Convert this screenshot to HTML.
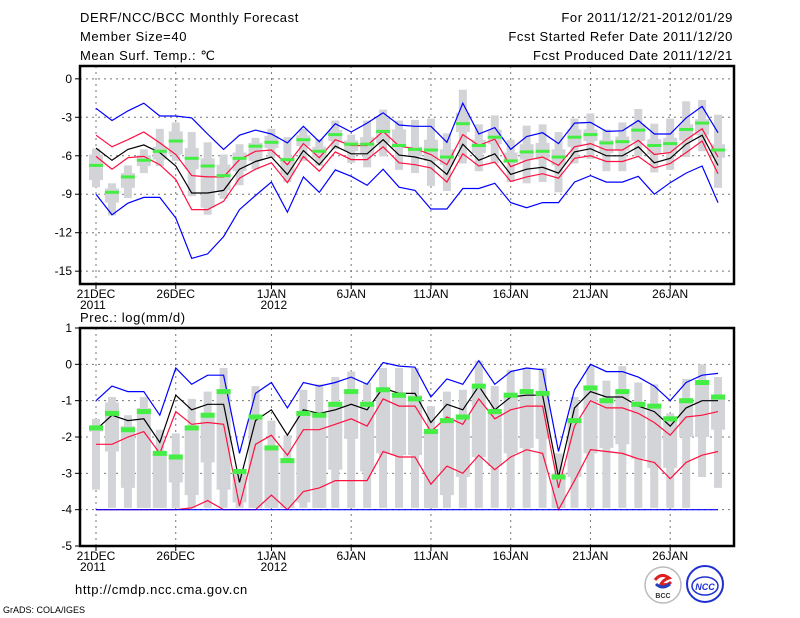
<!DOCTYPE html>
<html><head><meta charset="utf-8"><style>
body{margin:0;background:#fff;}
svg{display:block;font-family:"Liberation Sans",sans-serif;}
</style></head><body>
<svg id="c" width="800" height="618" viewBox="0 0 800 618">
<g font-size="13" fill="#000" letter-spacing="0.6">
<text x="80" y="22">DERF/NCC/BCC Monthly Forecast</text>
<text x="80" y="41">Member Size=40</text>
<text x="80" y="60">Mean Surf. Temp.: ℃</text>
<text x="733" y="22" text-anchor="end">For 2011/12/21-2012/01/29</text>
<text x="733" y="41" text-anchor="end">Fcst Started Refer Date 2011/12/20</text>
<text x="733" y="60" text-anchor="end">Fcst Produced Date 2011/12/21</text>
<text x="80" y="322">Prec.: log(mm/d)</text>
<text x="75" y="594">http://cmdp.ncc.cma.gov.cn</text>
<text x="3" y="613" font-size="9" letter-spacing="0">GrADS: COLA/IGES</text>
</g>
<g>
<circle cx="663" cy="585" r="18" fill="#fff" stroke="#bbb" stroke-width="1.5"/>
<path d="M655 580 q6 -8 14 -2 q-6 2 -8 6 q6 2 10 -2" fill="none" stroke="#e02020" stroke-width="3"/>
<path d="M656 584 q6 6 14 0" fill="none" stroke="#2040c0" stroke-width="3"/>
<text x="663" y="598" font-size="7" font-weight="bold" text-anchor="middle" fill="#333">BCC</text>
</g>
<g>
<circle cx="705" cy="584" r="18" fill="#fff" stroke="#2030d0" stroke-width="2"/>
<ellipse cx="705" cy="586" rx="13" ry="9" fill="none" stroke="#2030d0" stroke-width="1.5"/>
<text x="705" y="590" font-size="9" font-weight="bold" font-style="italic" text-anchor="middle" fill="#2030d0">NCC</text>
</g>
</svg>
<script>
// ---- Temperature panel data ----
const tBlueHi=[-2.3,-3.25,-2.5,-1.9,-2.9,-2.9,-3.05,-4.3,-5.5,-4.4,-4.0,-4.3,-5.0,-3.7,-4.9,-3.5,-4.15,-3.45,-2.65,-3.6,-3.7,-3.7,-4.95,-1.9,-4.3,-3.8,-5.5,-4.5,-4.2,-5.05,-3.45,-3.4,-4.1,-4.05,-3.25,-4.3,-4.3,-3.05,-2.15,-4.2];
const tBlueLo=[-9.0,-10.6,-9.7,-9.25,-9.25,-10.85,-14.0,-13.65,-12.3,-10.2,-9.1,-8.05,-10.4,-7.65,-8.85,-7.1,-7.6,-8.3,-7.05,-8.45,-8.7,-10.15,-10.15,-8.55,-8.55,-8.15,-9.65,-10.05,-9.65,-9.65,-8.05,-7.55,-8.05,-8.05,-7.6,-9.0,-8.1,-7.35,-6.8,-9.65];
const tRedHi=[-4.4,-5.3,-4.75,-4.15,-5.0,-5.9,-7.55,-7.65,-7.65,-6.3,-5.65,-5.55,-6.7,-5.05,-6.15,-4.75,-5.2,-5.2,-4.1,-5.25,-5.45,-5.9,-6.7,-4.35,-5.2,-4.7,-6.85,-6.35,-6.1,-6.75,-5.3,-5.05,-5.55,-5.55,-4.8,-5.9,-5.75,-4.75,-3.9,-6.1];
const tMean=[-5.4,-6.35,-5.5,-5.15,-5.75,-6.8,-8.9,-8.9,-8.7,-7.05,-6.45,-6.1,-7.45,-5.6,-6.7,-5.25,-5.85,-5.85,-4.75,-5.95,-6.1,-6.4,-7.45,-5.1,-6.35,-5.85,-7.45,-7.05,-6.9,-7.35,-5.7,-5.45,-6.0,-6.0,-5.3,-6.55,-6.2,-5.1,-4.4,-6.75];
const tRedLo=[-6.05,-7.05,-6.15,-6.05,-6.7,-7.85,-10.2,-10.2,-9.55,-7.75,-7.05,-6.55,-8.1,-6.05,-7.2,-5.7,-6.3,-6.3,-5.3,-6.55,-6.7,-6.95,-8.05,-5.85,-6.8,-6.5,-8.0,-7.65,-7.4,-7.75,-6.2,-6.0,-6.45,-6.45,-6.05,-6.95,-6.6,-5.75,-4.85,-7.4];
const tCtrl=[-6.75,-8.85,-7.65,-6.35,-5.65,-4.85,-6.2,-6.8,-7.55,-6.2,-5.25,-4.95,-6.3,-4.75,-5.65,-4.35,-5.1,-5.1,-4.1,-5.2,-5.5,-5.55,-6.1,-3.5,-5.2,-4.55,-6.4,-5.7,-5.65,-6.1,-4.55,-4.35,-5.0,-4.9,-4.0,-5.2,-5.05,-3.95,-3.45,-5.55];
const tMax=[-5.45,-8.15,-6.75,-5.5,-3.9,-3.4,-4.15,-4.95,-5.9,-5.1,-4.6,-3.9,-4.55,-3.9,-4.7,-3.25,-4.35,-3.25,-2.4,-3.25,-3.2,-3.1,-4.25,-0.85,-3.55,-2.85,-4.75,-3.65,-3.55,-4.15,-3.1,-2.7,-3.95,-3.4,-2.35,-3.5,-3.1,-1.75,-1.65,-2.8];
const tMin=[-8.45,-10.65,-9.3,-7.35,-6.8,-6.4,-9.15,-10.6,-9.35,-8.3,-7.05,-6.15,-8.05,-6.4,-6.8,-5.5,-6.55,-6.9,-6.05,-7.1,-7.35,-8.35,-8.75,-6.6,-7.2,-6.6,-8.05,-8.15,-8.05,-8.85,-6.6,-6.25,-7.2,-7.2,-6.05,-7.3,-7.1,-6.1,-5.65,-8.5];
const tQ3=[-5.9,-8.55,-7.35,-5.95,-5.3,-4.1,-5.4,-6.2,-6.7,-5.75,-5.0,-4.45,-6.15,-4.4,-5.3,-4.0,-4.8,-4.55,-2.9,-3.95,-5.3,-4.75,-5.5,-2.65,-4.75,-3.95,-5.75,-5.1,-5.0,-5.5,-3.95,-3.95,-4.75,-4.5,-3.55,-4.7,-4.6,-3.55,-3.15,-5.1];
const tQ1=[-7.9,-9.65,-8.5,-6.8,-6.3,-5.9,-7.05,-10.05,-8.7,-7.2,-6.4,-5.4,-7.45,-5.25,-6.15,-4.85,-5.65,-5.9,-5.0,-5.4,-6.05,-6.4,-6.7,-4.15,-5.8,-5.1,-6.55,-6.3,-6.3,-6.75,-5.3,-4.85,-5.8,-5.6,-4.85,-5.9,-5.75,-4.8,-4.4,-6.15];
const tTicks=[0,-3,-6,-9,-12,-15];
// ---- Precipitation panel data ----
const pBlueHi=[-1.0,-0.6,-0.75,-0.75,-1.4,-0.1,-0.55,-0.3,-0.3,-2.45,-0.8,-0.5,-1.2,-0.5,-0.6,-0.5,-0.35,-0.55,0.05,-0.05,-0.08,-0.9,-0.4,-0.55,0.1,-0.55,-0.2,-0.1,-0.15,-2.4,-0.7,0,-0.2,-0.2,-0.35,-0.6,-1.0,-0.5,-0.3,-0.25];
const pMean=[-1.8,-1.4,-1.55,-1.5,-2.15,-0.85,-1.25,-1.1,-1.1,-3.25,-1.55,-1.25,-1.95,-1.25,-1.35,-1.25,-1.1,-1.25,-0.65,-0.8,-0.8,-1.6,-1.1,-1.25,-0.6,-1.25,-0.9,-0.85,-0.85,-3.1,-1.2,-0.75,-0.9,-0.9,-1.15,-1.3,-1.7,-1.2,-1.0,-1.0];
const pRedHi=[-2.2,-2.2,-2.0,-1.85,-2.45,-1.3,-1.65,-1.6,-1.65,-3.9,-2.2,-1.95,-2.5,-1.8,-1.8,-1.65,-1.5,-1.7,-0.95,-1.15,-1.15,-1.85,-1.45,-1.65,-0.95,-1.5,-1.25,-1.15,-1.15,-3.4,-1.7,-1.0,-1.2,-1.2,-1.35,-1.6,-1.95,-1.45,-1.4,-1.3];
const pRedLo=[-4,-4,-4,-4,-4,-4,-3.95,-3.75,-4,-4,-4,-3.6,-4,-3.5,-3.4,-3.2,-3.2,-3.2,-2.4,-2.55,-2.55,-3.3,-2.8,-3.0,-2.5,-2.9,-2.55,-2.35,-2.45,-4,-3.2,-2.35,-2.4,-2.45,-2.6,-2.7,-3.15,-2.7,-2.5,-2.4];
const pBlueLo=[-4,-4,-4,-4,-4,-4,-4,-4,-4,-4,-4,-4,-4,-4,-4,-4,-4,-4,-4,-4,-4,-4,-4,-4,-4,-4,-4,-4,-4,-4,-4,-4,-4,-4,-4,-4,-4,-4,-4,-4];
const pCtrl=[-1.75,-1.35,-1.8,-1.3,-2.45,-2.55,-1.75,-1.4,-0.75,-2.95,-1.45,-2.3,-2.65,-1.35,-1.4,-1.1,-0.75,-1.1,-0.7,-0.85,-0.95,-1.85,-1.55,-1.45,-0.6,-1.3,-0.85,-0.75,-0.8,-3.1,-1.55,-0.65,-1.0,-0.75,-1.1,-1.15,-1.5,-1.0,-0.5,-0.9];
const pMax=[-1.5,-0.9,-1.4,-0.9,-1.8,-1.9,-0.95,-0.75,-0.1,-2.9,-0.6,-1.55,-1.95,-0.7,-0.55,-0.35,-0.2,-0.5,-0.1,-0.1,-0.1,-1.15,-0.75,-0.7,0.1,-0.6,-0.15,-0.1,-0.1,-2.45,-0.9,-0.05,-0.45,-0.05,-0.5,-0.55,-1.35,-0.4,0,-0.35];
const pMin=[-3.45,-3.95,-3.95,-3.95,-3.95,-3.95,-3.95,-3.95,-3.95,-3.95,-3.95,-3.95,-3.95,-3.95,-3.95,-3.95,-3.95,-3.95,-3.95,-3.95,-3.95,-3.95,-3.95,-3.95,-3.95,-3.95,-3.95,-3.95,-3.95,-3.95,-3.95,-3.95,-3.95,-3.95,-3.95,-3.95,-3.95,-3.95,-3.1,-3.4];
const pQ3=[-1.75,-1.05,-1.7,-1.2,-2.45,-2.5,-1.7,-1.4,-0.7,-2.95,-1.4,-2.3,-2.7,-1.35,-1.35,-1.1,-0.7,-1.1,-0.65,-0.85,-0.85,-1.85,-1.5,-1.4,-0.6,-1.3,-0.85,-0.75,-0.75,-3.0,-1.55,-0.6,-1.0,-0.75,-1.1,-1.15,-1.55,-1.0,-0.55,-0.9];
const pQ1=[-1.85,-2.4,-3.4,-3.95,-3.95,-3.25,-3.6,-2.7,-3.45,-3.8,-3.95,-3.95,-3.95,-3.8,-3.95,-2.9,-2.05,-2.95,-2.45,-2.5,-2.5,-3.95,-3.6,-3.1,-2.55,-2.8,-2.45,-2.3,-2.05,-3.95,-3.1,-2.45,-2.3,-2.2,-2.6,-2.85,-2.85,-2.0,-2.0,-1.8];
const pTicks=[1,0,-1,-2,-3,-4,-5];
const dateTicks=[0,5,11,16,21,26,31,36];
const dateLabels=["21DEC","26DEC","1JAN","6JAN","11JAN","16JAN","21JAN","26JAN"];
const yearLabels=["2011","","2012","","","","",""];

const NS="http://www.w3.org/2000/svg";
const svg=document.getElementById('c');
function mk(tag,attrs,parent){const e=document.createElementNS(NS,tag);for(const k in attrs)e.setAttribute(k,attrs[k]);(parent||svg).appendChild(e);return e;}
const X0=80,X1=734;
function xs(i){return 96+i*15.95;}

function panel(name,top,bot,vmax,vmin,ticks,series,boxes,ctrl,ctrlH){
  const g=mk('g',{});
  
  
  const ys=v=>top+(vmax-v)/(vmax-vmin)*(bot-top);
  ticks.forEach(t=>{
    if(t===vmax||t===vmin)return;
    const l=mk('line',{x1:X0,x2:X1,y1:ys(t),y2:ys(t),stroke:'#777','stroke-dasharray':'2,4','stroke-width':1},g);
    
    
  });
  dateTicks.forEach(d=>{
    const l=mk('line',{x1:xs(d),x2:xs(d),y1:top,y2:bot,stroke:'#777','stroke-dasharray':'2,4','stroke-width':1},g);
    
    
  });
  const [mx,mn,q3,q1]=boxes;
  for(let i=0;i<mx.length;i++){
    const r1=mk('rect',{x:xs(i)-4,y:ys(mx[i]),width:8,height:Math.max(1,ys(mn[i])-ys(mx[i])),fill:'#d3d4d8'},g);
    
    
    const r2=mk('rect',{x:xs(i)-7,y:ys(q3[i]),width:14,height:Math.max(1,ys(q1[i])-ys(q3[i])),fill:'#d3d4d8'},g);
    
    
  }
  series.forEach(([arr,col,nm])=>{
    const p=mk('polyline',{points:arr.map((v,i)=>xs(i).toFixed(1)+','+ys(v).toFixed(1)).join(' '),fill:'none',stroke:col,'stroke-width':1.2},g);
    
    
  });
  ctrl.forEach((v,i)=>{
    const r=mk('rect',{x:xs(i)-7,y:ys(v)-ctrlH/2,width:14,height:ctrlH,fill:'#44ee44'},g);
    
    
  });
  const f=mk('rect',{x:X0,y:top,width:X1-X0,height:bot-top,fill:'none',stroke:'#000','stroke-width':2.5},g);
  
  
  ticks.forEach(t=>{
    mk('line',{x1:X0-5,x2:X0,y1:ys(t),y2:ys(t),stroke:'#000'},g);
    const tx=mk('text',{x:X0-8,y:ys(t)+4,'text-anchor':'end','font-size':12},g);
    tx.textContent=String(t);
    
    
  });
  dateTicks.forEach((d,k)=>{
    mk('line',{x1:xs(d),x2:xs(d),y1:bot,y2:bot+5,stroke:'#000'},g);
    const tx=mk('text',{x:xs(d),y:bot+14,'text-anchor':'middle','font-size':12},g);
    tx.textContent=dateLabels[k];
    
    
    if(yearLabels[k]){
      const ty=mk('text',{x:xs(d)-(k===0?16:11),y:bot+25,'font-size':12},g);
      ty.textContent=yearLabels[k];
      
      
    }
  });
}
panel('temperature-panel',66,284,1,-16,tTicks,
  [[tBlueHi,'#0000ff','max-line'],[tBlueLo,'#0000ff','min-line'],[tRedHi,'#ff1040','upper-line'],[tRedLo,'#ff1040','lower-line'],[tMean,'#000','mean-line']],
  [tMax,tMin,tQ3,tQ1],tCtrl,3);
panel('precip-panel',328,546,1,-5,pTicks,
  [[pRedLo,'#ff1040','lower-line'],[pBlueLo,'#0000ff','min-line'],[pBlueHi,'#0000ff','max-line'],[pRedHi,'#ff1040','upper-line'],[pMean,'#000','mean-line']],
  [pMax,pMin,pQ3,pQ1],pCtrl,5);
</script>
</body></html>
